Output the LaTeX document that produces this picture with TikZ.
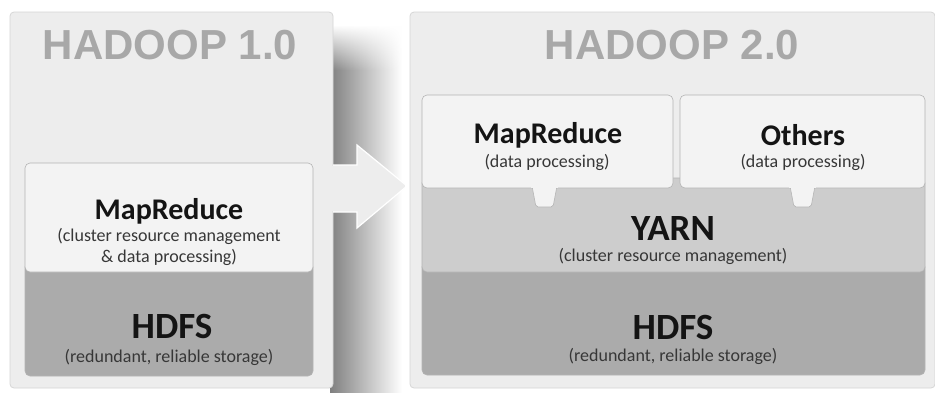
\documentclass[tikz,border=0pt]{standalone}
\usepackage{fontspec}
\setmainfont{Carlito}
\newfontfamily\titlefont{Liberation Sans}
\usetikzlibrary{shadings,fadings}
\definecolor{panelbg}{HTML}{EDEDED}
\definecolor{panelline}{HTML}{D6D6D6}
\definecolor{titlegray}{HTML}{A8A8A8}
\definecolor{lightbox}{HTML}{F3F3F3}
\definecolor{yarnbox}{HTML}{CDCDCD}
\definecolor{hdfsbox}{HTML}{ABABAB}
\definecolor{boxline}{HTML}{B4B4B4}
\definecolor{ink}{HTML}{141414}
\tikzfading[name=topfade, top color=transparent!100, bottom color=transparent!0]
\tikzset{
  panel/.style={draw=panelline, fill=panelbg, rounded corners=4pt, line width=0.8pt},
  layer/.style={draw=boxline, rounded corners=5pt, line width=0.6pt},
  ttl/.style={font=\titlefont\bfseries\fontsize{42}{42}\selectfont, text=titlegray, inner sep=0pt},
  big/.style={font=\bfseries\fontsize{30}{30}\selectfont, text=ink, inner sep=0pt},
  bigger/.style={font=\bfseries\fontsize{37}{37}\selectfont, text=ink, inner sep=0pt},
  small/.style={font=\fontsize{18}{20.5}\selectfont, text=ink!85, inner sep=0pt, align=center},
}
\begin{document}
\begin{tikzpicture}[x=1pt,y=-1pt]
\useasboundingbox (0,0) rectangle (935,392);
\fill[white] (0,0) rectangle (935,392);
% shadow of left panel
\shade[left color=black!50, right color=white] (330,70) rectangle (402,392);
\shade[left color=black!50, right color=white, path fading=topfade] (330,25) rectangle (402,70.5);
% left panel
\draw[panel] (10,12) rectangle (333,388);
\node[ttl] (t1) at (170,45) {HADOOP 1.0};
\draw[layer, fill=hdfsbox] (25,262) rectangle (313,376);
\draw[layer, fill=lightbox] (25,163) rectangle (313,272);
\node[big] (mr1) at (169,211) {MapReduce};
\node[small] (mr1s) at (169,247) {(cluster resource management\\ \& data processing)};
\node[bigger] (h1) at (172,326) {HDFS};
\node[small] (h1s) at (169,357) {(redundant, reliable storage)};
% arrow
\draw[draw=white, line width=1.2pt, fill=panelbg, line join=miter]
  (333,165) -- (357,165) -- (357,145) -- (407,186) -- (357,228) -- (357,212) -- (333,212);
\fill[panelbg] (331,166) rectangle (336,211);
% right panel
\fill[white] (405,0) rectangle (935,392);
\draw[panel] (410,12) rectangle (935,388);
\node[ttl] (t2) at (672,45) {HADOOP 2.0};
\draw[layer, fill=hdfsbox] (422,262) rectangle (925,375);
\draw[layer, fill=yarnbox] (422,178) rectangle (925,272);
\draw[layer, fill=lightbox] (422,95) rectangle (673,188);
\draw[layer, fill=lightbox] (680,95) rectangle (925,188);
\draw[draw=boxline, line width=0.6pt, fill=lightbox, rounded corners=2pt]
  (532,186) -- (536,207) -- (553,207) -- (557,186);
\fill[lightbox] (531,184) rectangle (558,188);
\draw[draw=boxline, line width=0.6pt, fill=lightbox, rounded corners=2pt]
  (790,186) -- (794,207) -- (811,207) -- (815,186);
\fill[lightbox] (789,184) rectangle (816,188);
\node[big] (mr2) at (548,135) {MapReduce};
\node[small] (mr2s) at (547,162) {(data processing)};
\node[big] (oth) at (803,135) {Others};
\node[small] (oths) at (803,162) {(data processing)};
\node[bigger] (yarn) at (673,228) {YARN};
\node[small] (yarns) at (673,256) {(cluster resource management)};
\node[bigger] (h2) at (673,327) {HDFS};
\node[small] (h2s) at (673,356) {(redundant, reliable storage)};
\end{tikzpicture}
\end{document}
